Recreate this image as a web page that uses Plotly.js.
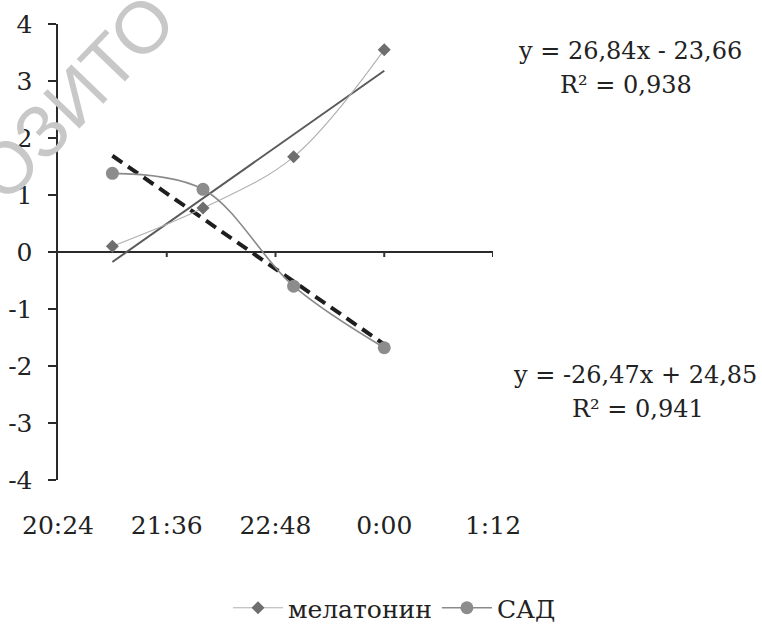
<!DOCTYPE html>
<html>
<head>
<meta charset="utf-8">
<script src="https://cdn.plot.ly/plotly-3.0.1.min.js"></script>
<style>html,body{margin:0;padding:0;background:#fff;}#chart{width:762px;height:629px;}</style>
</head>
<body>
<div id="chart"></div>
<script>
// ---- data ----
const times = ['21:00', '22:00', '23:00', '0:00'];
const melatonin = [0.1, 0.77, 1.67, 3.55];
const sad = [1.38, 1.1, -0.6, -1.68];
const melTrend = [26.84, -23.66];   // slope, intercept (x in days)
const sadTrend = [-26.47, 24.85];
const melEqText = ['y = 26,84x - 23,66', 'R² = 0,938'];
const sadEqText = ['y = -26,47x + 24,85', 'R² = 0,941'];
const tickVals = ['20:24', '21:36', '22:48', '0:00', '1:12'];
const seriesNames = ['мелатонин', 'САД'];
const yTicks = [-4, -3, -2, -1, 0, 1, 2, 3, 4];
const watermark = 'ОЗИТО';

// time string -> fraction of day (after-midnight times continue past 1)
function toDay(t) {
  const [h, m] = t.split(':').map(Number);
  let d = (h * 60 + m) / 1440;
  if (h < 12) d += 1;
  return d;
}
const xs = times.map(toDay);
const tickX = tickVals.map(toDay);
const xMin = Math.min(...xs), xMax = Math.max(...xs);
const trendX = [xMin, xMax];
const melTrendY = trendX.map(x => melTrend[0] * x + melTrend[1]);
const sadTrendY = trendX.map(x => sadTrend[0] * x + sadTrend[1]);

const font = 'DejaVu Serif';
const FS = 25;

const traces = [
  {x: trendX, y: melTrendY, mode: 'lines', line: {color: '#5a5a5a', width: 2}, showlegend: false, hoverinfo: 'skip'},
  {x: trendX, y: sadTrendY, mode: 'lines', line: {color: '#1e1e1e', width: 4, dash: '12px,7px'}, showlegend: false, hoverinfo: 'skip'},
  {x: xs, y: melatonin, name: seriesNames[0], mode: 'lines+markers',
   line: {color: '#b0b0b0', width: 1.1, shape: 'spline', smoothing: 1},
   marker: {symbol: 'diamond', size: 10, color: '#6e6e6e'}},
  {x: xs, y: sad, name: seriesNames[1], mode: 'lines+markers',
   line: {color: '#8a8a8a', width: 1.6, shape: 'spline', smoothing: 1},
   marker: {symbol: 'circle', size: 13, color: '#8c8c8c'}}
];

const shapes = tickX.slice(1).map(t => ({
  type: 'line', xref: 'x', yref: 'y', x0: t, x1: t,
  ysizemode: 'pixel', yanchor: 0, y0: 0, y1: -5,
  line: {color: '#333', width: 2}
}));

const px = p => (p - 58) / 435;
const py = p => (480 - p) / 456;
const eqFont = {family: font, size: 24, color: '#222'};
const annotations = [
  {xref: 'paper', yref: 'paper', x: px(74), y: py(98), xanchor: 'center', yanchor: 'middle', text: watermark, showarrow: false,
   textangle: -46, font: {family: 'Liberation Sans', size: 73, color: '#c8c8c8'}},
  {xref: 'paper', yref: 'paper', x: px(630), y: py(51), text: melEqText[0], showarrow: false, xanchor: 'center', yanchor: 'middle', font: eqFont},
  {xref: 'paper', yref: 'paper', x: px(626), y: py(85), text: melEqText[1], showarrow: false, xanchor: 'center', yanchor: 'middle', font: eqFont},
  {xref: 'paper', yref: 'paper', x: px(759), y: py(375), text: sadEqText[0], showarrow: false, xanchor: 'right', yanchor: 'middle', font: eqFont},
  {xref: 'paper', yref: 'paper', x: px(638), y: py(409), text: sadEqText[1], showarrow: false, xanchor: 'center', yanchor: 'middle', font: eqFont}
];

const layout = {
  width: 762, height: 629,
  margin: {l: 58, r: 269, t: 24, b: 149, autoexpand: false},
  paper_bgcolor: '#fff', plot_bgcolor: '#fff',
  font: {family: font, size: FS, color: '#222'},
  showlegend: true,
  legend: {orientation: 'h', x: px(228), xanchor: 'left', y: py(608), yanchor: 'middle',
           font: {family: font, size: FS, color: '#222'}, itemwidth: 50, tracegroupgap: 0},
  xaxis: {range: [tickX[0], tickX[tickX.length - 1]], tickvals: tickX, ticktext: tickVals,
          showgrid: false, zeroline: false, showline: false, ticks: '',
          ticklabelstandoff: 28, tickfont: {family: font, size: FS, color: '#222'}},
  yaxis: {range: [-4, 4], tickvals: yTicks, ticktext: yTicks.map(String),
          showgrid: false, zeroline: true, zerolinecolor: '#2a2a2a', zerolinewidth: 2.5,
          showline: true, linecolor: '#2a2a2a', linewidth: 2.5,
          ticks: 'outside', ticklen: 8, tickwidth: 2, tickcolor: '#2a2a2a',
          ticklabelstandoff: 10, tickfont: {family: font, size: FS, color: '#222'}},
  shapes: shapes,
  annotations: annotations
};

Plotly.newPlot('chart', traces, layout, {displayModeBar: false, staticPlot: true});
</script>
</body>
</html>
